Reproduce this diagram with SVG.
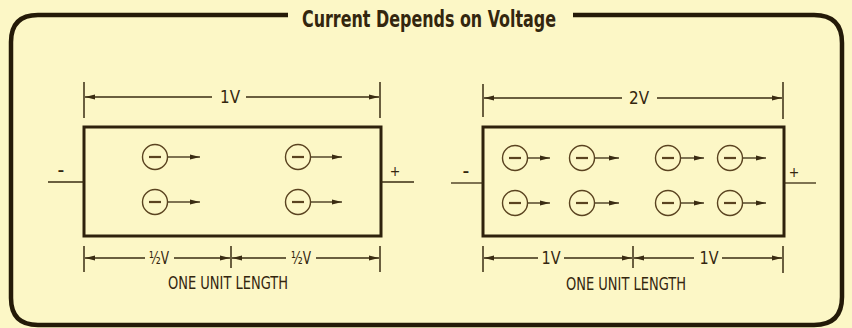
<svg xmlns="http://www.w3.org/2000/svg" width="852" height="328" viewBox="0 0 852 328">
<defs>
<style>
.ln{stroke:#3a2c12;fill:none;stroke-width:1.3}
.box{stroke:#2e220c;fill:none;stroke-width:3}
.tk{stroke:#3a2c12;stroke-width:1.5}
.el{stroke:#5a4320;fill:none;stroke-width:1.4}
.t{font-family:"DejaVu Sans Condensed","DejaVu Sans",sans-serif;fill:#33260e}
.lbl{font-size:18px;text-anchor:middle}
</style>
<marker id="ah" viewBox="0 0 10 6" refX="10" refY="3" markerWidth="10" markerHeight="6" markerUnits="userSpaceOnUse" orient="auto-start-reverse">
<path d="M0,0.5 L10,3 L0,5.5 Z" fill="#3a2c12"/>
</marker>
<g id="electron">
<circle cx="0" cy="0" r="12.5" class="el"/>
<line x1="-6" y1="0" x2="6" y2="0" stroke="#5a4320" stroke-width="2.2"/>
</g>
</defs>
<rect width="852" height="328" fill="#fcf7c6"/>
<g id="frame">
<path d="M288,15 L38,15 Q11,15 11,42 L11,298 Q11,325 38,325 L814,325 Q842,325 842,297 L842,43 Q842,15 814,15 L573,15" fill="none" stroke="#241a08" stroke-width="4.5"/>
<text class="t" x="429" y="27" font-size="23" font-weight="bold" text-anchor="middle" textLength="254" lengthAdjust="spacingAndGlyphs">Current Depends on Voltage</text>
</g>
<g id="left-bar">
<rect x="84" y="127" width="297" height="109" class="box"/>
<line x1="48" y1="182" x2="84" y2="182" class="ln" stroke-width="1.6"/>
<line x1="381" y1="182" x2="414" y2="182" class="ln" stroke-width="1.6"/>
<text class="t" x="61" y="175" font-size="14" font-weight="bold" text-anchor="middle">–</text>
<text class="t" x="395" y="176" font-size="14" text-anchor="middle">+</text>
<use href="#electron" x="155" y="157"/>
<use href="#electron" x="298" y="157"/>
<use href="#electron" x="155" y="202"/>
<use href="#electron" x="298" y="202"/>
</g>
<g id="right-bar">
<rect x="483" y="127" width="301" height="109" class="box"/>
<line x1="451" y1="183" x2="483" y2="183" class="ln" stroke-width="1.6"/>
<line x1="784" y1="183" x2="816" y2="183" class="ln" stroke-width="1.6"/>
<text class="t" x="466" y="176" font-size="14" font-weight="bold" text-anchor="middle">–</text>
<text class="t" x="794" y="177" font-size="14" text-anchor="middle">+</text>
<use href="#electron" x="515" y="158"/>
<use href="#electron" x="582" y="158"/>
<use href="#electron" x="668" y="158"/>
<use href="#electron" x="730" y="158"/>
<use href="#electron" x="515" y="203"/>
<use href="#electron" x="582" y="203"/>
<use href="#electron" x="668" y="203"/>
<use href="#electron" x="730" y="203"/>
</g>
<g id="connectors">
<line x1="168" y1="157" x2="200" y2="157" class="ln" marker-end="url(#ah)"/>
<line x1="311" y1="157" x2="342" y2="157" class="ln" marker-end="url(#ah)"/>
<line x1="168" y1="202" x2="200" y2="202" class="ln" marker-end="url(#ah)"/>
<line x1="311" y1="202" x2="342" y2="202" class="ln" marker-end="url(#ah)"/>
<line x1="528" y1="158" x2="550" y2="158" class="ln" marker-end="url(#ah)"/>
<line x1="595" y1="158" x2="619" y2="158" class="ln" marker-end="url(#ah)"/>
<line x1="681" y1="158" x2="704" y2="158" class="ln" marker-end="url(#ah)"/>
<line x1="743" y1="158" x2="766" y2="158" class="ln" marker-end="url(#ah)"/>
<line x1="528" y1="203" x2="550" y2="203" class="ln" marker-end="url(#ah)"/>
<line x1="595" y1="203" x2="619" y2="203" class="ln" marker-end="url(#ah)"/>
<line x1="681" y1="203" x2="704" y2="203" class="ln" marker-end="url(#ah)"/>
<line x1="743" y1="203" x2="766" y2="203" class="ln" marker-end="url(#ah)"/>
<line x1="84" y1="82" x2="84" y2="118" class="tk"/>
<line x1="380" y1="82" x2="380" y2="118" class="tk"/>
<line x1="85" y1="97" x2="212" y2="97" class="ln" marker-start="url(#ah)"/>
<line x1="246" y1="97" x2="379" y2="97" class="ln" marker-end="url(#ah)"/>
<line x1="84" y1="246" x2="84" y2="272" class="tk"/>
<line x1="231" y1="246" x2="231" y2="268" class="tk"/>
<line x1="380" y1="246" x2="380" y2="272" class="tk"/>
<line x1="85" y1="258" x2="145" y2="258" class="ln" marker-start="url(#ah)"/>
<line x1="174" y1="258" x2="230" y2="258" class="ln" marker-end="url(#ah)"/>
<line x1="232" y1="258" x2="286" y2="258" class="ln" marker-start="url(#ah)"/>
<line x1="316" y1="258" x2="379" y2="258" class="ln" marker-end="url(#ah)"/>
<line x1="483" y1="84" x2="483" y2="117" class="tk"/>
<line x1="783" y1="82" x2="783" y2="119" class="tk"/>
<line x1="484" y1="98" x2="622" y2="98" class="ln" marker-start="url(#ah)"/>
<line x1="657" y1="98" x2="782" y2="98" class="ln" marker-end="url(#ah)"/>
<line x1="483" y1="246" x2="483" y2="272" class="tk"/>
<line x1="633" y1="246" x2="633" y2="268" class="tk"/>
<line x1="783" y1="246" x2="783" y2="273" class="tk"/>
<line x1="484" y1="258" x2="538" y2="258" class="ln" marker-start="url(#ah)"/>
<line x1="564" y1="258" x2="632" y2="258" class="ln" marker-end="url(#ah)"/>
<line x1="634" y1="258" x2="694" y2="258" class="ln" marker-start="url(#ah)"/>
<line x1="722" y1="258" x2="782" y2="258" class="ln" marker-end="url(#ah)"/>
</g>
<g id="labels">
<text class="t lbl" x="230" y="103" textLength="20" lengthAdjust="spacingAndGlyphs">1V</text>
<text class="t lbl" x="639" y="104" textLength="20" lengthAdjust="spacingAndGlyphs">2V</text>
<text class="t lbl" x="551" y="264" textLength="19" lengthAdjust="spacingAndGlyphs">1V</text>
<text class="t lbl" x="709" y="264" textLength="19" lengthAdjust="spacingAndGlyphs">1V</text>
<text class="t lbl" x="159" y="264" textLength="20" lengthAdjust="spacingAndGlyphs">½V</text>
<text class="t lbl" x="301" y="264" textLength="20" lengthAdjust="spacingAndGlyphs">½V</text>
<text class="t" x="228" y="289" font-size="17" text-anchor="middle" textLength="120" lengthAdjust="spacingAndGlyphs">ONE UNIT LENGTH</text>
<text class="t" x="626" y="290" font-size="17" text-anchor="middle" textLength="120" lengthAdjust="spacingAndGlyphs">ONE UNIT LENGTH</text>
</g>
</svg>
